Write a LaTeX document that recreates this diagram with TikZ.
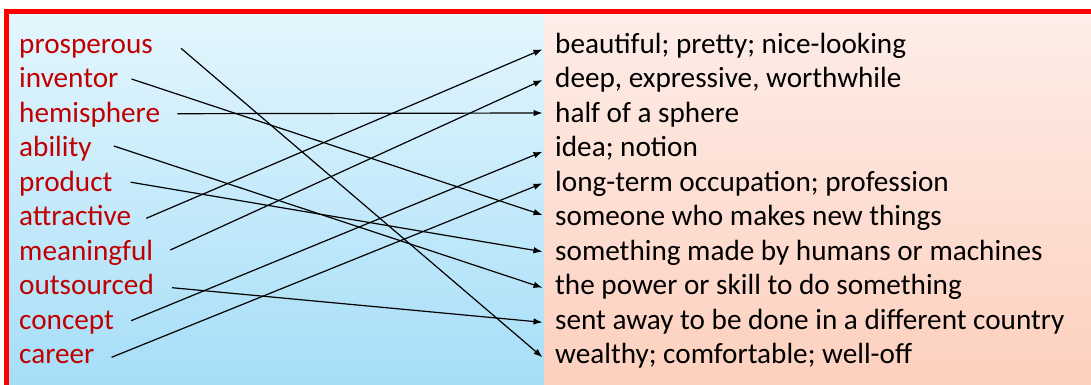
\documentclass[tikz,border=0pt]{standalone}
\usepackage{fontspec}
\setmainfont{Carlito}
\usetikzlibrary{arrows.meta}
\definecolor{wordred}{RGB}{192,0,0}
\definecolor{bluetop}{RGB}{228,246,253}
\definecolor{bluebot}{RGB}{166,222,248}
\definecolor{peachtop}{RGB}{253,237,232}
\definecolor{peachbot}{RGB}{253,208,190}
\definecolor{frame}{RGB}{255,0,0}
\tikzset{
  word/.style={anchor=base west, inner sep=0pt, text height=0pt, text depth=0pt, text=wordred, font=\fontsize{29.2}{34.5}\selectfont},
  defn/.style={anchor=base west, inner sep=0pt, text height=0pt, text depth=0pt, text=black, font=\fontsize{29.2}{34.5}\selectfont},
  arr/.style={draw=black, line width=1.2pt, -{Latex[length=9pt,width=6.5pt]}}
}
\begin{document}
\begin{tikzpicture}[x=1pt,y=-1pt]
\useasboundingbox (0,0) rectangle (1091,385);
\fill[white] (0,0) rectangle (1091,385);
% panels
\shade[top color=bluetop, bottom color=bluebot] (9,14) rectangle (544,385);
\shade[top color=peachtop, bottom color=peachbot] (544,14) rectangle (1091,385);
% red frame
\fill[frame] (4,9.5) rectangle (1091,14);
\fill[frame] (4,9.5) rectangle (9,385);
% words
\node[word] (prosperous) at (19,53.3) {prosperous};
\node[word] (inventor) at (19,87.8) {inventor};
\node[word] (hemisphere) at (19,122.3) {hemisphere};
\node[word] (ability) at (19,156.8) {ability};
\node[word] (product) at (19,191.3) {product};
\node[word] (attractive) at (19,225.8) {attractive};
\node[word] (meaningful) at (19,260.3) {meaningful};
\node[word] (outsourced) at (19,294.8) {outsourced};
\node[word] (concept) at (19,329.3) {concept};
\node[word] (career) at (19,363.8) {career};
% definitions
\node[defn] (beautiful) at (555,53.3) {beautiful; pretty; nice-looking};
\node[defn] (deep) at (555,87.8) {deep, expressive, worthwhile};
\node[defn] (half) at (555,122.3) {half of a sphere};
\node[defn] (idea) at (555,156.8) {idea; notion};
\node[defn] (longterm) at (555,191.3) {long-term occupation; profession};
\node[defn] (someone) at (555,225.8) {someone who makes new things};
\node[defn] (something) at (555,260.3) {something made by humans or machines};
\node[defn] (power) at (555,294.8) {the power or skill to do something};
\node[defn] (sent) at (555,329.3) {sent away to be done in a different country};
\node[defn] (wealthy) at (555,363.8) {wealthy; comfortable; well-off};
% connectors
\draw[arr] ([shift={(28,-5)}]prosperous.east) -- ([shift={(-12.5,-6.5)}]wealthy.west);
\draw[arr] ([shift={(13,-8.8)}]inventor.east) -- ([shift={(-12.5,-10.8)}]someone.west);
\draw[arr] ([shift={(17,-8.6)}]hemisphere.east) -- ([shift={(-12.5,-9.3)}]half.west);
\draw[arr] ([shift={(22,-10.8)}]ability.east) -- ([shift={(-12.5,-7.1)}]power.west);
\draw[arr] ([shift={(18,-9.1)}]product.east) -- ([shift={(-12.5,-8.6)}]something.west);
\draw[arr] ([shift={(15,-7.5)}]attractive.east) -- ([shift={(-12.5,-4)}]beautiful.west);
\draw[arr] ([shift={(17,-10.3)}]meaningful.east) -- ([shift={(-12.5,-7.8)}]deep.west);
\draw[arr] ([shift={(18,-7.1)}]outsourced.east) -- ([shift={(-12.5,-7)}]sent.west);
\draw[arr] ([shift={(17,-8.6)}]concept.east) -- ([shift={(-12.5,-5.1)}]idea.west);
\draw[arr] ([shift={(17,-6.5)}]career.east) -- ([shift={(-12.5,-8)}]longterm.west);
\end{tikzpicture}
\end{document}
